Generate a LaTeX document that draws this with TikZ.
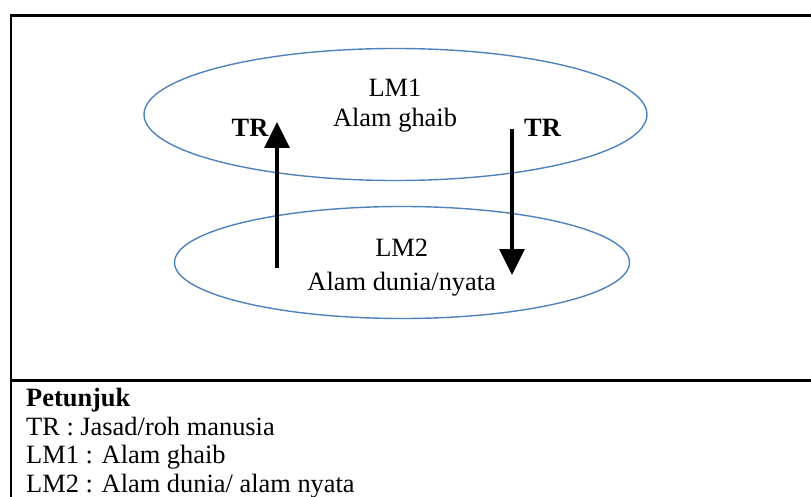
\documentclass[tikz,border=0pt]{standalone}
\usepackage{fontspec}
\setmainfont{Liberation Serif}
\usetikzlibrary{arrows.meta}
\definecolor{ellblue}{HTML}{4F81BD}
\begin{document}
\begin{tikzpicture}[x=1pt,y=-1pt,
  frameline/.style={line width=2.2pt,black},
  world/.style={draw=ellblue,line width=1.4pt,ellipse,inner sep=0pt},
  txt/.style={font=\fontsize{26.4}{30}\selectfont,inner sep=0pt,anchor=base},
  trlabel/.style={font=\fontsize{26.4}{30}\selectfont\bfseries,inner sep=0pt,anchor=base},
  legend/.style={font=\fontsize{26.4}{30}\selectfont,inner sep=0pt,anchor=base west},
  tr/.style={line width=3.2pt,-{Triangle[width=25pt,length=26pt]}}]
\useasboundingbox (0,0) rectangle (811,497);
% frame
\coordinate (tl) at (11,15.5);
\coordinate (tr) at (811,15.5);
\coordinate (bl) at (11,497);
\coordinate (ml) at (11,380.5);
\coordinate (mr) at (811,380.5);
\draw[frameline] (tr) -- (tl) -- (bl);
\draw[frameline] (ml) -- (mr);
% worlds
\draw[ellblue,line width=1.4pt] (395.5,114.5) ellipse [x radius=251.5, y radius=66];
\draw[ellblue,line width=1.4pt] (402,262.5) ellipse [x radius=227.5, y radius=56];
\node[txt] (lm1) at (395,97) {LM1};
\node[txt] (ghaib) at (395,127) {Alam ghaib};
\node[txt] (lm2) at (401.7,256) {LM2};
\node[txt] (dunia) at (401.7,290.5) {Alam dunia/nyata};
% TR labels
\node[trlabel] (trl) at (250,136.5) {TR};
\node[trlabel] (trr) at (542.5,136.5) {TR};
% arrows
\coordinate (upS) at (277,268);
\coordinate (upE) at (277,122);
\coordinate (dnS) at (512,129);
\coordinate (dnE) at (512,275);
\draw[tr] (upS) -- (upE);
\draw[tr] (dnS) -- (dnE);
% legend
\node[legend,font=\fontsize{26.4}{30}\selectfont\bfseries] (leg0) at (26,406) {Petunjuk};
\node[legend] (leg1) at (26,435) {TR : Jasad/roh manusia};
\node[legend] (leg2) at (26,463.5) {LM1 : Alam ghaib};
\node[legend] (leg3) at (26,492) {LM2 : Alam dunia/ alam nyata};
\end{tikzpicture}
\end{document}
